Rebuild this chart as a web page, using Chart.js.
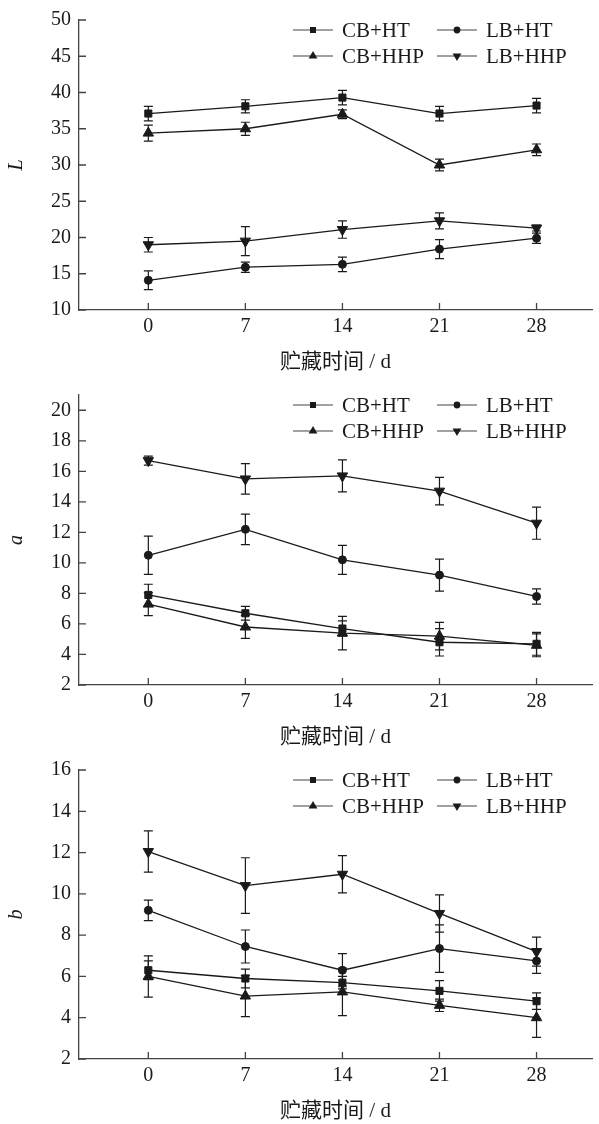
<!DOCTYPE html>
<html>
<head>
<meta charset="utf-8">
<script src="https://cdn.jsdelivr.net/npm/chart.js@4.4.0/dist/chart.umd.min.js"></script>
<style>
  html, body { margin: 0; padding: 0; background: #fff; }
  .panel { position: absolute; left: 0; width: 599px; }
  #p1 { top: 0; height: 375px; }
  #p2 { top: 375px; height: 375px; }
  #p3 { top: 750px; height: 374px; }
</style>
</head>
<body>
<div class="panel" id="p1"><canvas id="chartL"></canvas></div>
<div class="panel" id="p2"><canvas id="chartA"></canvas></div>
<div class="panel" id="p3"><canvas id="chartB"></canvas></div>
<script>
// Storage days (x axis)
const days = [0, 7, 14, 21, 28];
const seriesNames = ['CB+HT', 'LB+HT', 'CB+HHP', 'LB+HHP'];
const xTitle = '贮藏时间 / d';

// L values
const lCbHt = [37.1, 38.1, 39.3, 37.1, 38.2];
const lCbHtErr = [1.0, 0.9, 1.0, 1.0, 1.0];
const lLbHt = [14.1, 15.9, 16.3, 18.4, 19.9];
const lLbHtErr = [1.3, 0.7, 1.0, 1.3, 0.7];
const lCbHhp = [34.4, 35.0, 37.0, 30.0, 32.1];
const lCbHhpErr = [1.1, 0.9, 0.6, 0.8, 0.8];
const lLbHhp = [19.0, 19.5, 21.1, 22.3, 21.3];
const lLbHhpErr = [1.0, 2.0, 1.2, 1.1, 0.4];
const lTicks = { min: 10, max: 50, step: 5 };

// a values
const aCbHt = [7.9, 6.7, 5.7, 4.8, 4.7];
const aCbHtErr = [0.7, 0.45, 0.5, 0.9, 0.75];
const aLbHt = [10.5, 12.2, 10.2, 9.2, 7.8];
const aLbHtErr = [1.25, 1.0, 0.95, 1.05, 0.5];
const aCbHhp = [7.3, 5.8, 5.4, 5.2, 4.6];
const aCbHhpErr = [0.75, 0.75, 1.1, 0.9, 0.75];
const aLbHhp = [16.7, 15.5, 15.7, 14.7, 12.6];
const aLbHhpErr = [0.3, 1.0, 1.05, 0.9, 1.05];
const aTicks = { min: 2, max: 21, step: 2 };

// b values
const bCbHt = [6.3, 5.9, 5.7, 5.3, 4.8];
const bCbHtErr = [0.45, 0.45, 0.3, 0.5, 0.4];
const bLbHt = [9.2, 7.45, 6.3, 7.35, 6.75];
const bLbHtErr = [0.5, 0.8, 0.8, 1.15, 0.6];
const bCbHhp = [6.0, 5.05, 5.25, 4.6, 4.0];
const bCbHhpErr = [1.0, 1.0, 1.15, 0.3, 0.95];
const bLbHhp = [12.05, 10.4, 10.95, 9.05, 7.2];
const bLbHhpErr = [1.0, 1.35, 0.9, 0.9, 0.7];
const bTicks = { min: 2, max: 16, step: 2 };

const serif = '"Liberation Serif", "Noto Sans CJK SC", serif';
const ink = '#1a1a1a';
const axisColor = '#444';

// marker styles per series (same order as seriesNames)
const markers = [
  { pointStyle: 'rect', radius: 5, rotation: 0 },
  { pointStyle: 'circle', radius: 4, rotation: 0 },
  { pointStyle: 'triangle', radius: 6, rotation: 0 },
  { pointStyle: 'triangle', radius: 6, rotation: 180 }
];

// Error bars, drawn from the y scale
const errorBarPlugin = {
  id: 'errorBars',
  beforeDatasetsDraw(chart) {
    const { ctx } = chart;
    const y = chart.scales.y;
    ctx.save();
    ctx.strokeStyle = ink;
    ctx.lineWidth = 1.2;
    chart.data.datasets.forEach((ds, i) => {
      const meta = chart.getDatasetMeta(i);
      meta.data.forEach((pt, j) => {
        const v = ds.data[j].y, e = ds.errors[j];
        const top = y.getPixelForValue(v + e);
        const bot = y.getPixelForValue(v - e);
        ctx.beginPath();
        ctx.moveTo(pt.x, top); ctx.lineTo(pt.x, bot);
        ctx.moveTo(pt.x - 4.5, top); ctx.lineTo(pt.x + 4.5, top);
        ctx.moveTo(pt.x - 4.5, bot); ctx.lineTo(pt.x + 4.5, bot);
        ctx.stroke();
      });
    });
    ctx.restore();
  }
};

// Tick marks pointing into the plot
const innerTicksPlugin = {
  id: 'innerTicks',
  afterDraw(chart) {
    const { ctx, chartArea, scales } = chart;
    ctx.save();
    ctx.strokeStyle = axisColor;
    ctx.lineWidth = 1.3;
    ctx.beginPath();
    scales.x.ticks.forEach((t, i) => {
      const px = scales.x.getPixelForTick(i);
      ctx.moveTo(px, chartArea.bottom);
      ctx.lineTo(px, chartArea.bottom - 7);
    });
    scales.y.ticks.forEach((t, i) => {
      const py = scales.y.getPixelForTick(i);
      ctx.moveTo(chartArea.left, py);
      ctx.lineTo(chartArea.left + 7, py);
    });
    ctx.stroke();
    ctx.restore();
  }
};

// 2x2 legend inside the plot, top right
const gridLegendPlugin = {
  id: 'gridLegend',
  afterDraw(chart) {
    const { ctx, chartArea } = chart;
    const cols = [214, 358];
    const rows = [10, 36];
    ctx.save();
    chart.data.datasets.forEach((ds, i) => {
      const x0 = chartArea.left + cols[i % 2];
      const y0 = chartArea.top + rows[Math.floor(i / 2)];
      ctx.strokeStyle = axisColor;
      ctx.lineWidth = 1.2;
      ctx.beginPath();
      ctx.moveTo(x0, y0);
      ctx.lineTo(x0 + 40, y0);
      ctx.stroke();
      ctx.fillStyle = ink;
      ctx.strokeStyle = ink;
      const m = markers[i];
      Chart.helpers.drawPoint(ctx, {
        pointStyle: m.pointStyle, rotation: m.rotation,
        radius: m.radius * 0.85, borderWidth: 0
      }, x0 + 20, y0);
      ctx.font = '21px ' + serif;
      ctx.textBaseline = 'middle';
      ctx.textAlign = 'left';
      ctx.fillText(ds.label, x0 + 49, y0 + 1);
    });
    ctx.restore();
  }
};

function makeChart(canvasId, yTitle, ticks, values, errors, padTop) {
  const datasets = seriesNames.map((name, i) => ({
    label: name,
    data: days.map((d, j) => ({ x: d, y: values[i][j] })),
    errors: errors[i],
    borderColor: ink,
    borderWidth: 1.3,
    pointStyle: markers[i].pointStyle,
    rotation: markers[i].rotation,
    pointRadius: markers[i].radius,
    pointBackgroundColor: ink,
    pointBorderColor: ink,
    pointBorderWidth: 1,
    tension: 0
  }));

  return new Chart(document.getElementById(canvasId), {
    type: 'line',
    data: { datasets },
    options: {
      responsive: true,
      maintainAspectRatio: false,
      animation: false,
      layout: { padding: { top: padTop, left: 0, right: 0, bottom: 0 } },
      plugins: { legend: { display: false }, tooltip: { enabled: false } },
      scales: {
        x: {
          type: 'linear',
          min: -5,
          max: 32,
          afterBuildTicks(scale) { scale.ticks = days.map(v => ({ value: v })); },
          afterFit(scale) { scale.height = 65; },
          ticks: { padding: 5, color: ink, font: { family: serif, size: 20 } },
          grid: { display: false, drawTicks: false },
          border: { display: true, color: axisColor, width: 1.3 },
          title: {
            display: true, text: xTitle, color: ink,
            font: { family: serif, size: 21 },
            padding: { top: 0, bottom: 0 }
          }
        },
        y: {
          min: ticks.min,
          max: ticks.max,
          afterBuildTicks(scale) {
            const list = [];
            for (let v = ticks.min; v <= ticks.max + 1e-9; v += ticks.step) list.push({ value: v });
            scale.ticks = list;
          },
          afterFit(scale) { scale.width = 79; },
          ticks: { stepSize: ticks.step, padding: 8, color: ink, font: { family: serif, size: 20 } },
          grid: { display: false, drawTicks: false },
          border: { display: true, color: axisColor, width: 1.3 },
          title: {
            display: true, text: yTitle, color: ink,
            font: { family: serif, size: 20, style: 'italic' },
            padding: { top: 5, bottom: 0 }
          }
        }
      }
    },
    plugins: [errorBarPlugin, innerTicksPlugin, gridLegendPlugin]
  });
}

makeChart('chartL', 'L', lTicks,
  [lCbHt, lLbHt, lCbHhp, lLbHhp], [lCbHtErr, lLbHtErr, lCbHhpErr, lLbHhpErr], 20);
makeChart('chartA', 'a', aTicks,
  [aCbHt, aLbHt, aCbHhp, aLbHhp], [aCbHtErr, aLbHtErr, aCbHhpErr, aLbHhpErr], 20);
makeChart('chartB', 'b', bTicks,
  [bCbHt, bLbHt, bCbHhp, bLbHhp], [bCbHtErr, bLbHtErr, bCbHhpErr, bLbHhpErr], 19);
</script>
</body>
</html>
